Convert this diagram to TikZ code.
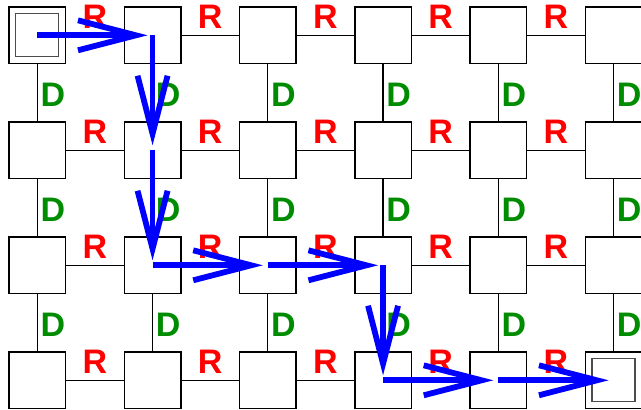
\documentclass[tikz,border=0pt]{standalone}
\usepackage{fontspec}
\setmainfont{Liberation Sans}
\usetikzlibrary{arrows.meta}
\definecolor{rcol}{RGB}{255,0,0}
\definecolor{dcol}{RGB}{0,140,0}
\definecolor{acol}{RGB}{0,0,255}
\begin{document}
\begin{tikzpicture}[x=1pt,y=-1pt,
  cell/.style={draw,fill=white,line width=1.6pt,minimum size=56.5pt,inner sep=0pt},
  link/.style={line width=1.3pt},
  innerbox/.style={draw=black!70,line width=1.2pt,minimum size=43pt,inner sep=0pt},
  lab/.style={font=\fontsize{34}{34}\selectfont\bfseries,inner sep=0pt},
  rlab/.style={lab,text=rcol},
  dlab/.style={lab,text=dcol},
  move/.style={draw=acol,line width=5.8pt,-{Straight Barb[length=58pt,width=30pt]},shorten >=5pt}]
\useasboundingbox (0,0) rectangle (641,410);
\foreach \r in {0,...,3}
  \foreach \c in {0,...,5}
    \node[cell] (n\r\c) at ({37.3+115.25*\c},{35.3+115*\r}) {};
\foreach \r in {0,...,3}
  \foreach \c/\d in {0/1,1/2,2/3,3/4,4/5}
    \draw[link] (n\r\c) -- (n\r\d);
\foreach \r/\s in {0/1,1/2,2/3}
  \foreach \c in {0,...,5}
    \draw[link] (n\r\c) -- (n\s\c);
\node[innerbox] (start) at (n00.center) {};
\node[innerbox] (goal) at (n35.center) {};
\foreach \r in {0,...,3}
  \foreach \c in {0,...,4}
    \node[rlab] (r\r\c) at ({94.8+115.25*\c},{17.3+115*\r}) {R};
\foreach \r in {0,...,2}
  \foreach \c in {0,...,5}
    \node[dlab] (d\r\c) at ({52.8+115.25*\c},{95.3+115*\r}) {D};
\draw[move] (n00.center) -- (n01.center);
\draw[move] (n01.center) -- (n11.center);
\draw[move] (n11.center) -- (n21.center);
\draw[move] (n21.center) -- (n22.center);
\draw[move] (n22.center) -- (n23.center);
\draw[move] (n23.center) -- (n33.center);
\draw[move] (n33.center) -- (n34.center);
\draw[move] (n34.center) -- (n35.center);
\end{tikzpicture}
\end{document}
